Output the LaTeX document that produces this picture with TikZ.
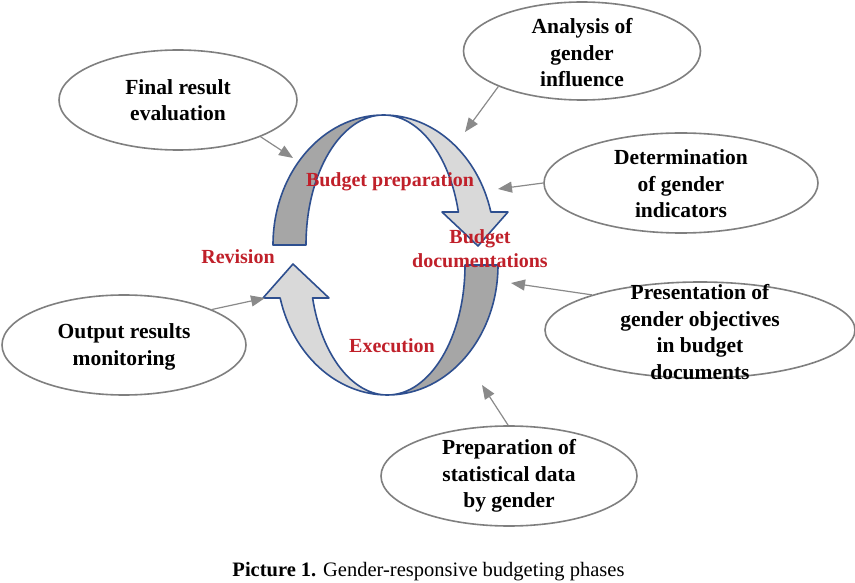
\documentclass[tikz,border=0pt]{standalone}
\usepackage{fontspec}
\setmainfont{Liberation Serif}
\usetikzlibrary{arrows.meta,shapes.geometric}
\definecolor{ribbonborder}{HTML}{2E4F8F}
\definecolor{ribbondark}{HTML}{A6A6A6}
\definecolor{ribbonlight}{HTML}{D9D9D9}
\definecolor{ellborder}{HTML}{7F7F7F}
\definecolor{conncol}{HTML}{8A8A8A}
\definecolor{phasered}{HTML}{C0202A}
\tikzset{
  ell/.style={ellipse, draw=ellborder, line width=1.6pt, fill=white, inner sep=0pt},
  elltext/.style={align=center, font=\fontsize{21.5}{26.5}\selectfont\bfseries, inner sep=0pt},
  phase/.style={align=center, text=phasered, font=\fontsize{20}{24}\selectfont\bfseries, inner sep=0pt},
  conn/.style={draw=conncol, line width=1.2pt, -{Triangle[length=14pt,width=11pt]}},
  ribbon/.style={draw=ribbonborder, line width=1.6pt, line join=round},
}
\begin{document}
\begin{tikzpicture}[x=1pt,y=1pt]
\useasboundingbox (0,0) rectangle (855,582);

% ellipses
\node[ell, minimum width=238pt, minimum height=100pt] (fin)  at (178,482) {};
\node[ell, minimum width=237pt, minimum height=98pt]  (ana)  at (582,531) {};
\node[ell, minimum width=274pt, minimum height=100pt] (det)  at (681,399) {};
\node[ell, minimum width=310pt, minimum height=96pt]  (pres) at (700,252) {};
\node[ell, minimum width=244pt, minimum height=100pt] (out)  at (124,237) {};
\node[ell, minimum width=256pt, minimum height=100pt] (prep) at (509,106) {};

\node[elltext] (finT)  at (fin.center)  {Final result\\evaluation};
\node[elltext] (anaT)  at ([yshift=-2pt]ana.center)  {Analysis of\\gender\\influence};
\node[elltext] (detT)  at ([yshift=-1pt]det.center)  {Determination\\of gender\\indicators};
\node[elltext] (presT) at ([yshift=-2pt]pres.center) {Presentation of\\gender objectives\\in budget\\documents};
\node[elltext] (outT)  at ([yshift=-2pt]out.center)  {Output results\\monitoring};
\node[elltext] (prepT) at (prep.center) {Preparation of\\statistical data\\by gender};

% ribbons
\coordinate (C) at (385.5,327);
\foreach \rot in {0,180}{
\begin{scope}[shift={(C)}, rotate=\rot]
  \path[ribbon, fill=ribbondark] (-112.5,10)
     arc[start angle=180, end angle=90, x radius=110.5, y radius=130]
     arc[start angle=90, end angle=180, x radius=77.5, y radius=130] -- cycle;
  \path[ribbon, fill=ribbonlight] (-2,140)
     arc[start angle=90, end angle=14.7, x radius=111, y radius=130]
     -- (122.5,43) -- (92.5,9) -- (56.5,43) -- (72.9,43)
     arc[start angle=14.7, end angle=90, x radius=77.5, y radius=130] -- cycle;
\end{scope}
}

% tips of connectors
\coordinate (t1) at (293,424);
\coordinate (t2) at (465,450);
\coordinate (t3) at (498,393);
\coordinate (t4) at (511,299);
\coordinate (t5) at (265,284);
\coordinate (t6) at (482,197);

\draw[conn] (fin.-24) -- (t1);
\draw[conn] (ana.203) -- (t2);
\draw[conn] (det.180) -- (t3);
\draw[conn] (pres.162) -- (t4);
\draw[conn] (out.22) -- (t5);
\draw[conn] (prep.91) -- (t6);

% phase labels
\node[phase] (prepL) at (390,400) {Budget preparation};
\node[phase] (docL)  at (480,333) {Budget\\documentations};
\node[phase] (revL)  at (238,325) {Revision};
\node[phase] (exeL)  at (392,236) {Execution};

% caption
\node[inner sep=0pt, font=\fontsize{20.5}{24}\selectfont] (cap) at (428.5,10)
  {\textbf{Picture 1.} Gender-responsive budgeting phases};
\end{tikzpicture}
\end{document}
